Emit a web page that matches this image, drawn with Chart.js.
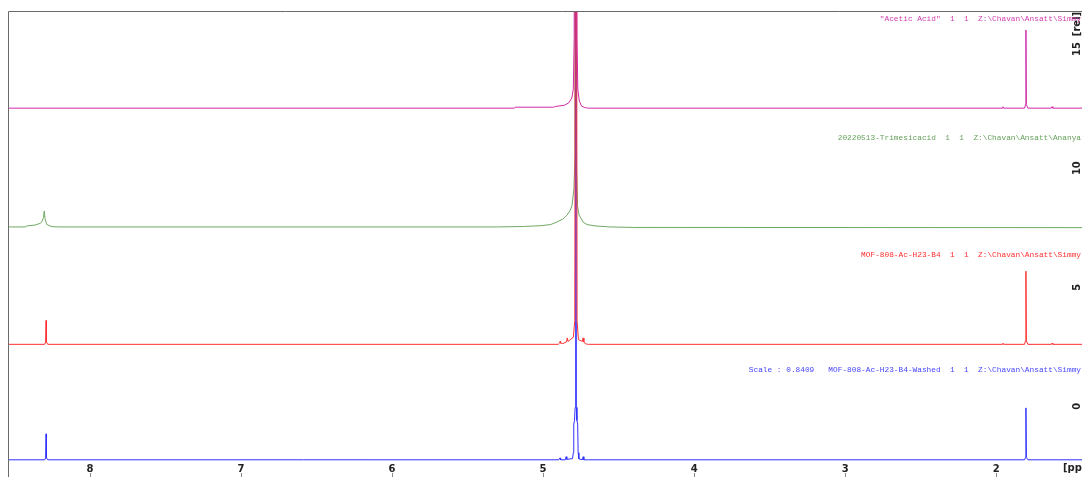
<!DOCTYPE html>
<html>
<head>
<meta charset="utf-8">
<title>1H NMR stacked spectra</title>
<script src="https://cdn.jsdelivr.net/npm/chart.js@4.4.1/dist/chart.umd.min.js"></script>
<style>
  html, body { margin: 0; padding: 0; background: #fff; overflow: hidden; }
  #wrap { width: 1117px; height: 477px; }
</style>
</head>
<body>
<div id="wrap"><canvas id="nmr" width="1117" height="477"></canvas></div>
<script>
// ---- Spectrum data: chemical shift (ppm) and relative intensity ----
const aceticPpm = [8.6, 5.19, 5.185, 4.93, 4.92, 4.86, 4.83, 4.81, 4.80, 4.794, 4.785, 4.776, 4.77, 4.76, 4.745, 4.72, 4.70,
                   1.96, 1.955, 1.95, 1.812, 1.806, 1.803, 1.800, 1.79, 1.635, 1.63, 1.625, 1.2];
const aceticInt = [0, 0, 0.04, 0.04, 0.07, 0.12, 0.22, 0.42, 0.8, 3.0, 40, 3.0, 0.8, 0.3, 0.08, 0.02, 0,
                   0, 0.06, 0, 0, 0.15, 3.28, 0.15, 0, 0, 0.06, 0, 0];

const trimesicPpm = [8.6, 8.43, 8.42, 8.364, 8.33, 8.318, 8.308, 8.303, 8.298, 8.287, 8.265, 8.245, 8.2,
                     5.3, 5.13, 5.02, 4.95, 4.907, 4.87, 4.841, 4.82, 4.808, 4.796, 4.789, 4.784, 4.779, 4.772, 4.762,
                     4.750, 4.735, 4.709, 4.65, 4.576, 4.56, 4.4, 1.2];
const trimesicInt = [0, 0, 0.04, 0.08, 0.15, 0.22, 0.4, 0.67, 0.35, 0.11, 0.04, 0.01, 0,
                     0, 0.02, 0.05, 0.1, 0.21, 0.33, 0.5, 0.7, 0.92, 1.6, 3.0, 30, 2.5, 0.9, 0.5,
                     0.38, 0.2, 0.1, 0.04, 0.01, 0, -0.02, -0.03];

const mofPpm = [8.6, 8.30, 8.294, 8.291, 8.288, 8.28,
                4.90, 4.89, 4.887, 4.884, 4.87, 4.845, 4.84, 4.835, 4.80, 4.79, 4.782, 4.775, 4.766, 4.74, 4.735, 4.73, 4.72, 4.70,
                1.96, 1.955, 1.95, 1.812, 1.806, 1.803, 1.800, 1.79, 1.635, 1.63, 1.625, 1.2];
const mofInt = [0, 0, 0.1, 1.0, 0.1, 0,
                0, 0.06, 0.13, 0.05, 0.03, 0.1, 0.27, 0.12, 0.3, 1.0, 40, 1.0, 0.2, 0.12, 0.27, 0.1, 0.02, 0,
                0, 0.05, 0, 0, 0.15, 3.07, 0.15, 0, 0, 0.05, 0, 0];

const washedPpm = [8.6, 8.30, 8.294, 8.291, 8.288, 8.28,
                   4.895, 4.888, 4.884, 4.853, 4.848, 4.843, 4.805, 4.800, 4.797, 4.792, 4.788, 4.784, 4.780, 4.776, 4.771, 4.768, 4.763, 4.74, 4.735, 4.73, 4.70,
                   1.812, 1.806, 1.803, 1.800, 1.79, 1.2];
const washedInt = [0, 0, 0.08, 1.09, 0.08, 0,
                   0, 0.08, 0, 0, 0.13, 0.02, 0.05, 0.3, 1.5, 1.65, 2.2, 40, 2.2, 1.65, 1.5, 0.3, 0.04, 0, 0.13, 0, 0,
                   0, 0.1, 2.18, 0.1, 0, 0];

// Spectrum titles as printed above each trace
const titles = [
  '"Acetic Acid"  1  1  Z:\\Chavan\\Ansatt\\Simmy',
  '20220513-Trimesicacid  1  1  Z:\\Chavan\\Ansatt\\Ananya',
  'MOF-808-Ac-H23-B4  1  1  Z:\\Chavan\\Ansatt\\Simmy',
  'Scale : 0.8409   MOF-808-Ac-H23-B4-Washed  1  1  Z:\\Chavan\\Ansatt\\Simmy'
];

// Axis tick labels
const relTicks = [0, 5, 10, 15];

// ---- Layout / style ----
const stackOffset = [12.52, 7.53, 2.6, -2.25];   // vertical stacking of the four traces (rel units)
const drawOrder = [0, 3, 1, 2];                   // lower value is painted on top
const colors = ['rgb(208,42,168)', 'rgb(112,168,100)', 'rgb(255,48,48)', 'rgb(48,48,255)'];
const textColors = ['rgb(210,60,175)', 'rgb(100,160,90)', 'rgb(255,45,45)', 'rgb(70,70,255)'];

const series = [
  [aceticPpm, aceticInt],
  [trimesicPpm, trimesicInt],
  [mofPpm, mofInt],
  [washedPpm, washedInt]
];

const datasets = series.map(([ppm, val], i) => ({
  label: titles[i],
  data: ppm.map((p, k) => ({ x: p, y: val[k] + stackOffset[i] })),
  borderColor: colors[i],
  borderWidth: 1,
  pointRadius: 0,
  tension: 0,
  fill: false,
  order: drawOrder[i]
}));

const decorations = {
  id: 'decorations',
  afterDraw(chart) {
    const { ctx, chartArea: ca, scales: { x: xs, y: ys } } = chart;
    ctx.save();

    // frame: top and left edges
    ctx.strokeStyle = '#6a6a6a';
    ctx.lineWidth = 1;
    ctx.beginPath();
    ctx.moveTo(ca.left + 0.5, 477);
    ctx.lineTo(ca.left + 0.5, ca.top + 0.5);
    ctx.lineTo(ca.right, ca.top + 0.5);
    ctx.stroke();

    // small tick marks under the ppm labels
    ctx.strokeStyle = '#888';
    xs.ticks.forEach(t => {
      const px = Math.round(xs.getPixelForValue(t.value)) + 0.5;
      ctx.beginPath();
      ctx.moveTo(px, 473);
      ctx.lineTo(px, 477);
      ctx.stroke();
    });

    // unit label of the shift axis
    ctx.fillStyle = '#222';
    ctx.font = 'bold 10px "DejaVu Sans", sans-serif';
    ctx.textAlign = 'left';
    ctx.textBaseline = 'middle';
    ctx.fillText('[ppm]', 1063, 468.5);

    // relative intensity axis, rotated labels
    const axX = 1077;
    ctx.font = 'bold 10px "DejaVu Sans", sans-serif';
    ctx.textAlign = 'center';
    ctx.textBaseline = 'middle';
    relTicks.forEach(v => {
      ctx.save();
      ctx.translate(axX, ys.getPixelForValue(v));
      ctx.rotate(-Math.PI / 2);
      ctx.fillText(String(v), 0, 0);
      ctx.restore();
    });
    ctx.save();
    ctx.translate(axX, ca.top + 13);
    ctx.rotate(-Math.PI / 2);
    ctx.fillText('[rel]', 0, 0);
    ctx.restore();

    // spectrum titles, right aligned above each trace
    ctx.font = '7.8px "Liberation Mono", "DejaVu Sans Mono", monospace';
    ctx.textAlign = 'right';
    ctx.textBaseline = 'middle';
    titles.forEach((t, i) => {
      ctx.fillStyle = textColors[i];
      ctx.fillText(t, 1081, ys.getPixelForValue(stackOffset[i]) - 89.5);
    });

    ctx.restore();
  }
};

new Chart(document.getElementById('nmr'), {
  type: 'line',
  data: { datasets },
  options: {
    responsive: false,
    animation: false,
    devicePixelRatio: 1,
    layout: { padding: { left: 8, top: 11, right: 0, bottom: 0 } },
    plugins: { legend: { display: false }, tooltip: { enabled: false } },
    scales: {
      x: {
        type: 'linear',
        reverse: true,
        min: 1.2,
        max: 8.543,
        grid: { display: false, drawTicks: false },
        border: { display: false },
        ticks: {
          stepSize: 1,
          includeBounds: false,
          autoSkip: false,
          maxRotation: 0,
          padding: 2,
          color: '#222',
          font: { family: '"DejaVu Sans", sans-serif', size: 10, weight: 'bold' }
        },
        afterFit(scale) { scale.height = 16; }
      },
      y: {
        type: 'linear',
        min: -2.3,
        max: 16.6,
        display: false
      }
    }
  },
  plugins: [decorations]
});
</script>
</body>
</html>
